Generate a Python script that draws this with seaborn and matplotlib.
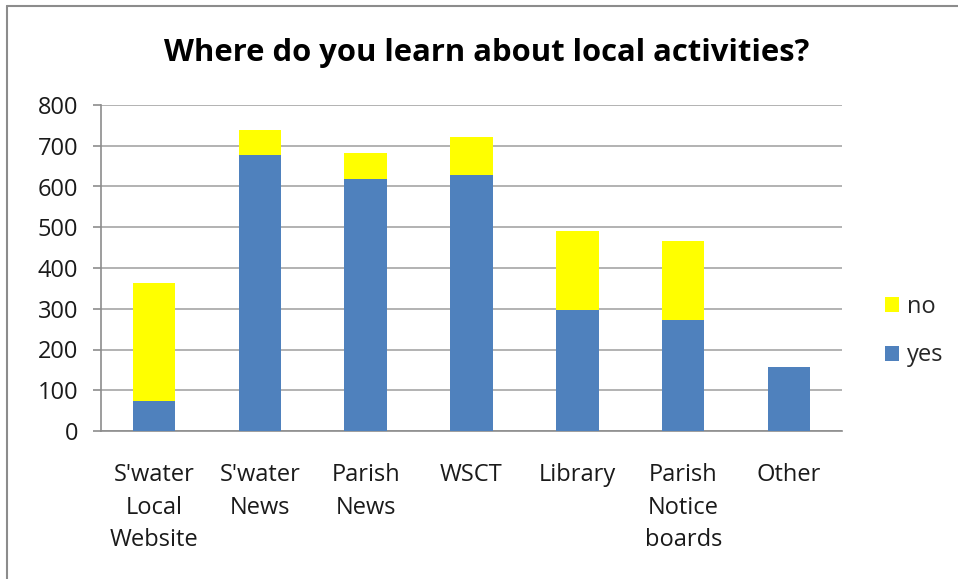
import matplotlib
matplotlib.use("Agg")
import matplotlib.pyplot as plt
import seaborn as sns
import pandas as pd
from matplotlib.lines import Line2D
from matplotlib.patches import Patch

categories = ["S'water\nLocal\nWebsite", "S'water\nNews", "Parish\nNews", "WSCT",
              "Library", "Parish\nNotice\nboards", "Other"]
yes_vals = [73, 678, 618, 628, 297, 272, 156]
no_vals = [290, 60, 64, 94, 195, 195, 0]
yticks = [0, 100, 200, 300, 400, 500, 600, 700, 800]
title = "Where do you learn about local activities?"

sns.set_style("white")
plt.rcParams['font.family'] = ['Open Sans', 'DejaVu Sans']

BLUE = "#4F81BD"
YELLOW = "#FFFF00"
GRID = "#A6A6A6"
FS = 17

df = pd.DataFrame({"cat": categories, "yes": yes_vals,
                   "total": [y + n for y, n in zip(yes_vals, no_vals)]})

fig = plt.figure(figsize=(9.58, 5.79), dpi=100)
ax = fig.add_axes([101/958, 1 - 431/579, (842 - 101)/958, (431 - 105)/579])

sns.barplot(data=df, x="cat", y="total", color=YELLOW, width=0.4, ax=ax,
            saturation=1, edgecolor="none", zorder=3)
sns.barplot(data=df, x="cat", y="yes", color=BLUE, width=0.4, ax=ax,
            saturation=1, edgecolor="none", zorder=4)

ax.set_ylim(0, 800)
ax.set_xlim(-0.5, len(categories) - 0.5)
ax.set_yticks(yticks)
ax.set_yticklabels([str(t) for t in yticks], fontsize=FS, color="#1a1a1a")
ax.set_xlabel("")
ax.set_ylabel("")
ax.yaxis.grid(True, color=GRID, linewidth=1.2, zorder=0)
ax.set_axisbelow(True)
for s in ["top", "right"]:
    ax.spines[s].set_visible(False)
for s in ["left", "bottom"]:
    ax.spines[s].set_color("#8C8C8C")
    ax.spines[s].set_linewidth(1.2)

# category labels centered, tick marks at boundaries
ax.set_xticks(range(len(categories)))
ax.set_xticklabels(categories, fontsize=FS, color="#1a1a1a", linespacing=1.48)
ax.tick_params(axis="x", length=0, pad=23)
ax.set_xticks([i - 0.5 for i in range(len(categories) + 1)], minor=True)
ax.tick_params(axis="x", which="minor", length=6, color="#8C8C8C", width=1.2)
ax.tick_params(axis="y", length=6, color="#8C8C8C", width=1.2, left=True, pad=10.5)

fig.text(487/958, 1 - 53/579, title, ha="center", va="center",
         fontsize=22.3, fontweight="bold", color="black")

handles = [Patch(facecolor=YELLOW, edgecolor="none", label="no"),
           Patch(facecolor=BLUE, edgecolor="none", label="yes")]
fig.legend(handles=handles, loc="center left", bbox_to_anchor=(885/958, 1 - 331/579),
           frameon=False, fontsize=FS, handlelength=0.6, handleheight=0.6,
           handletextpad=0.35, labelspacing=1.05, borderpad=0, borderaxespad=0)

# chart border (left & top)
fig.add_artist(Line2D([7/958, 7/958], [0, 1 - 6/579], transform=fig.transFigure,
                      color="#8C8C8C", linewidth=1.5))
fig.add_artist(Line2D([7/958, 1], [1 - 6/579, 1 - 6/579], transform=fig.transFigure,
                      color="#8C8C8C", linewidth=1.5))

fig.savefig("out.png", dpi=100)
